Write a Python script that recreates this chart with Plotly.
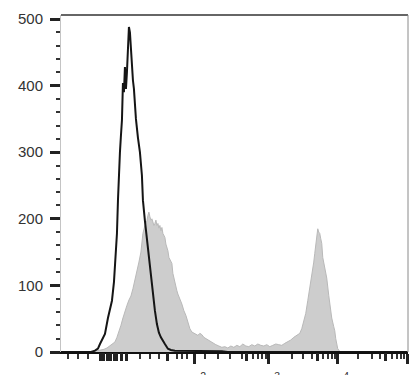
import plotly.graph_objects as go

# ---- data (display channel units, counts) ----
ctrl_ch = [0, 90, 102, 111, 117, 126, 132, 141, 147, 153,
           159, 162, 165, 168, 171, 174, 177, 180, 183, 186,
           189, 192, 195, 198, 201, 204, 207, 210, 213, 216,
           219, 222, 225, 231, 237, 243, 246, 252, 258, 264,
           270, 276, 282, 288, 294, 300, 306, 312, 321, 330,
           342, 357, 375, 393, 411, 429, 447, 465, 483, 501,
           540, 1041]
ctrl_cnt = [0, 0, 2, 5, 12, 20, 27, 51, 62, 77,
            105, 126, 150, 178, 227, 272, 300, 325, 348, 404,
            390, 428, 395, 420, 470, 488, 480, 450, 437, 408,
            395, 372, 350, 322, 300, 265, 228, 197, 168, 140,
            113, 88, 62, 42, 29, 22, 16, 12, 5, 3,
            2, 2, 1, 2, 1, 1, 2, 1, 1, 0,
            0, 0]

stain_ch = [90, 102, 111, 120, 129, 138, 147, 156, 162, 168,
            174, 180, 186, 192, 198, 204, 210, 216, 222, 228,
            234, 240, 246, 252, 258, 261, 264, 267, 270, 273,
            276, 279, 282, 285, 288, 291, 294, 297, 300, 303,
            306, 309, 312, 315, 318, 321, 324, 327, 330, 333,
            336, 339, 342, 345, 348, 351, 357, 363, 369, 375,
            381, 387, 393, 399, 405, 411, 417, 423, 429, 435,
            441, 447, 456, 465, 474, 483, 492, 501, 510, 519,
            528, 537, 546, 555, 564, 573, 582, 591, 600, 609,
            618, 627, 636, 645, 654, 663, 672, 681, 690, 699,
            708, 717, 723, 729, 735, 741, 747, 753, 759, 762,
            765, 768, 771, 774, 777, 780, 783, 786, 792, 798,
            804, 807, 813, 819, 822, 825, 828, 831, 837, 843]
stain_cnt = [0, 1, 2, 3, 4, 6, 9, 12, 15, 22,
             30, 40, 51, 62, 70, 78, 84, 95, 107, 120,
             135, 150, 178, 190, 197, 205, 210, 203, 198, 200,
             195, 190, 193, 198, 190, 193, 186, 190, 182, 187,
             178, 175, 172, 162, 158, 152, 142, 138, 135, 133,
             118, 110, 102, 96, 92, 87, 80, 72, 62, 55,
             45, 35, 30, 28, 27, 25, 28, 26, 22, 20,
             18, 16, 13, 11, 9, 7, 8, 6, 9, 7,
             10, 8, 12, 9, 8, 11, 9, 12, 10, 9,
             11, 8, 10, 12, 11, 10, 13, 15, 18, 22,
             25, 28, 35, 45, 58, 77, 95, 111, 135, 148,
             162, 172, 185, 180, 178, 170, 163, 142, 125, 111,
             85, 72, 51, 38, 32, 20, 12, 5, 1, 0]

# ---- axis ticks (channel positions) ----
x_major_vals = [402, 624, 831, 1041]
x_major_text = ["10<sup>2</sup>", "10<sup>3</sup>", "10<sup>4</sup>", "10<sup>5</sup>"]
x_mid_vals = [120, 129, 141, 150, 162, 168, 183, 198, 321, 558, 771, 975]
x_minor_vals = [21, 51, 81, 237, 267, 294, 348, 363, 378, 432, 471, 507, 543,
                576, 591, 603, 615, 693, 726, 753, 786, 801, 813, 822,
                891, 933, 957, 993, 1008, 1020, 1029]
y_major_vals = [0, 100, 200, 300, 400, 500]
x_range = [0, 1042]
y_range = [0, 506]

fig = go.Figure()
fig.add_trace(go.Scatter(x=stain_ch, y=stain_cnt, mode="lines",
                         line=dict(color="#b9b9b9", width=1),
                         fill="tozeroy", fillcolor="#cdcdcd",
                         hoverinfo="skip", showlegend=False))
fig.add_trace(go.Scatter(x=ctrl_ch, y=ctrl_cnt, mode="lines",
                         line=dict(color="#151515", width=2),
                         hoverinfo="skip", showlegend=False))
# invisible trace for the overlay tick axis
fig.add_trace(go.Scatter(x=[x_range[0]], y=[0], xaxis="x2", mode="markers",
                         marker=dict(opacity=0), hoverinfo="skip", showlegend=False))

tickfont = dict(family="Liberation Sans, Arial", size=15, color="#333333")

fig.update_layout(
    width=418, height=375,
    margin=dict(l=61, r=10, t=15, b=23),
    paper_bgcolor="white", plot_bgcolor="white",
    xaxis=dict(range=x_range, showgrid=False, zeroline=False, automargin=False,
               showline=True, linecolor="#111111", linewidth=2,
               tickmode="array", tickvals=x_major_vals, ticktext=x_major_text,
               ticks="outside", ticklen=10, tickwidth=3, tickcolor="#222222",
               tickfont=tickfont, ticklabelstandoff=4,
               minor=dict(tickmode="array", tickvals=x_minor_vals,
                          ticks="outside", ticklen=5, tickwidth=1.5,
                          tickcolor="#333333", showgrid=False)),
    xaxis2=dict(range=x_range, overlaying="x", anchor="y", side="bottom",
                showgrid=False, zeroline=False, showline=False, automargin=False,
                tickmode="array", tickvals=x_mid_vals, showticklabels=False,
                ticks="outside", ticklen=8, tickwidth=3, tickcolor="#222222"),
    yaxis=dict(range=y_range, showgrid=False, zeroline=False, automargin=False,
               showline=True, linecolor="#c4c4c4", linewidth=1,
               tickmode="array", tickvals=y_major_vals,
               ticks="outside", ticklen=10, tickwidth=3, tickcolor="#222222",
               tickfont=tickfont, ticklabelstandoff=4,
               minor=dict(dtick=20, ticks="outside", ticklen=4, tickwidth=1.5,
                          tickcolor="#333333", showgrid=False)),
    shapes=[
        dict(type="line", xref="paper", yref="paper", x0=0, x1=1, y0=1, y1=1,
             line=dict(color="#333333", width=1.5)),
        dict(type="line", xref="paper", yref="paper", x0=1, x1=1, y0=0, y1=1,
             line=dict(color="#8a8a8a", width=1)),
    ],
    hovermode=False,
)

fig.write_html("out.html", config={"displayModeBar": False})
